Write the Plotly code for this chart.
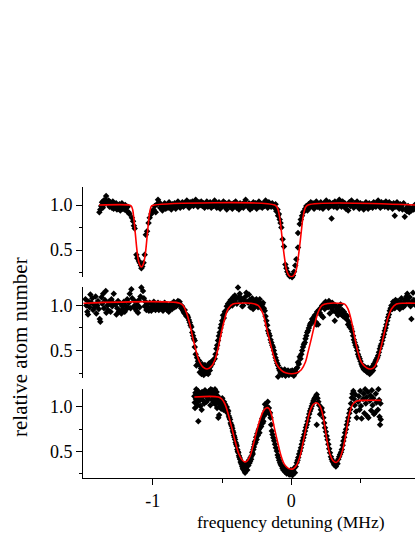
import plotly.graph_objects as go
from plotly.subplots import make_subplots

# (frequency detuning [MHz], relative atom number)
top_pts = [
    (-1.385, 0.92), (-1.378, 0.95), (-1.372, 0.99), (-1.366, 1.03), (-1.360, 0.97), (-1.354, 1.05),
    (-1.348, 1.01), (-1.342, 1.06), (-1.336, 1.10), (-1.330, 1.04), (-1.324, 1.02), (-1.318, 1.05),
    (-1.312, 0.98), (-1.306, 1.03), (-1.300, 1.01), (-1.294, 0.97), (-1.288, 1.04), (-1.282, 0.96),
    (-1.276, 1.00), (-1.270, 0.97), (-1.264, 1.02), (-1.258, 0.95), (-1.252, 0.99), (-1.246, 0.96),
    (-1.240, 1.01), (-1.234, 0.94), (-1.228, 0.98), (-1.222, 1.02), (-1.216, 0.96), (-1.210, 0.99),
    (-1.204, 0.95), (-1.198, 1.00), (-1.192, 0.97), (-1.186, 0.93), (-1.180, 0.98), (-1.174, 0.92),
    (-1.168, 0.90), (-1.150, 0.86), (-1.142, 0.82), (-1.136, 0.77), (-1.130, 0.74), (-1.118, 0.45),
    (-1.111, 0.41), (-1.100, 0.38), (-1.094, 0.36), (-1.086, 0.33), (-1.082, 0.30), (-1.075, 0.32),
    (-1.066, 0.36), (-1.058, 0.45), (-1.050, 0.67), (-1.041, 0.71), (-1.030, 0.80), (-1.022, 0.86),
    (-1.010, 0.90), (-1.002, 0.93), (-0.994, 0.95), (-0.986, 0.99), (-0.978, 0.92), (-0.970, 1.01),
    (-0.962, 1.06), (-0.954, 1.03), (-0.946, 0.97), (-0.938, 1.00), (-0.930, 0.94), (-0.922, 0.98),
    (-0.914, 1.02), (-0.906, 0.96), (-0.898, 1.00), (-0.890, 0.97), (-0.882, 1.03), (-0.874, 0.99),
    (-0.866, 0.95), (-0.858, 1.01), (-0.850, 0.98), (-0.842, 1.02), (-0.834, 0.96), (-0.826, 1.00),
    (-0.818, 1.04), (-0.810, 0.99), (-0.802, 0.97), (-0.794, 1.01), (-0.786, 1.03), (-0.778, 0.98),
    (-0.770, 1.02), (-0.762, 1.00), (-0.754, 1.05), (-0.746, 1.01), (-0.738, 0.97), (-0.730, 1.03),
    (-0.722, 1.00), (-0.714, 1.04), (-0.706, 0.99), (-0.698, 1.02), (-0.690, 1.06), (-0.682, 1.01),
    (-0.674, 0.98), (-0.666, 1.03), (-0.658, 1.00), (-0.650, 1.04), (-0.642, 0.99), (-0.634, 1.02),
    (-0.626, 0.97), (-0.618, 1.01), (-0.610, 1.04), (-0.602, 0.98), (-0.594, 1.00), (-0.586, 1.03),
    (-0.578, 0.97), (-0.570, 1.01), (-0.562, 0.99), (-0.554, 1.05), (-0.546, 1.02), (-0.538, 0.97),
    (-0.530, 1.00), (-0.522, 1.03), (-0.514, 0.96), (-0.506, 1.01), (-0.498, 0.99), (-0.490, 1.04),
    (-0.482, 0.98), (-0.474, 1.02), (-0.466, 0.95), (-0.458, 1.00), (-0.450, 1.03), (-0.442, 0.98),
    (-0.434, 1.01), (-0.426, 0.96), (-0.418, 1.02), (-0.410, 0.99), (-0.402, 1.04), (-0.394, 0.97),
    (-0.386, 1.00), (-0.378, 0.95), (-0.370, 1.02), (-0.362, 0.98), (-0.354, 1.01), (-0.346, 0.97),
    (-0.338, 1.03), (-0.330, 1.06), (-0.322, 1.00), (-0.314, 0.98), (-0.306, 1.02), (-0.298, 0.95),
    (-0.290, 1.01), (-0.282, 0.97), (-0.274, 1.03), (-0.266, 0.99), (-0.258, 1.02), (-0.250, 0.96),
    (-0.242, 1.00), (-0.234, 1.04), (-0.226, 0.98), (-0.218, 1.01), (-0.210, 0.97), (-0.202, 1.02),
    (-0.194, 0.99), (-0.186, 1.05), (-0.178, 1.00), (-0.170, 0.97), (-0.162, 1.03), (-0.154, 1.01),
    (-0.146, 0.98), (-0.138, 1.02), (-0.130, 1.00), (-0.122, 0.97), (-0.114, 1.01), (-0.108, 0.93),
    (-0.100, 0.95), (-0.096, 0.88), (-0.090, 0.90), (-0.084, 0.84), (-0.078, 0.80), (-0.072, 0.75),
    (-0.063, 0.62), (-0.053, 0.54), (-0.043, 0.34), (-0.036, 0.30), (-0.029, 0.26), (-0.020, 0.23),
    (-0.012, 0.21), (-0.004, 0.22), (0.005, 0.20), (0.012, 0.22), (0.019, 0.26), (0.028, 0.33),
    (0.036, 0.40), (0.048, 0.53), (0.048, 0.69), (0.060, 0.79), (0.068, 0.84), (0.077, 0.88),
    (0.085, 0.92), (0.092, 0.93), (0.100, 0.96), (0.108, 0.99), (0.116, 0.94), (0.124, 1.01),
    (0.132, 0.97), (0.140, 1.03), (0.148, 0.99), (0.156, 1.02), (0.164, 0.96), (0.172, 1.00),
    (0.180, 1.04), (0.188, 0.98), (0.196, 1.01), (0.204, 0.97), (0.212, 1.03), (0.220, 1.00),
    (0.228, 0.96), (0.236, 1.02), (0.244, 0.99), (0.252, 1.05), (0.260, 1.01), (0.268, 0.97),
    (0.276, 1.03), (0.284, 0.99), (0.290, 0.85), (0.298, 1.02), (0.306, 0.98), (0.314, 1.04),
    (0.322, 1.00), (0.330, 0.97), (0.338, 1.03), (0.346, 1.06), (0.354, 1.01), (0.362, 0.98),
    (0.370, 1.04), (0.378, 0.99), (0.386, 1.02), (0.394, 0.96), (0.402, 1.00), (0.410, 0.94),
    (0.418, 1.03), (0.426, 0.99), (0.434, 1.05), (0.442, 1.01), (0.450, 0.97), (0.458, 1.02),
    (0.466, 0.99), (0.474, 1.04), (0.482, 1.00), (0.490, 0.96), (0.498, 1.02), (0.506, 0.98),
    (0.514, 1.01), (0.522, 0.95), (0.530, 0.99), (0.538, 1.03), (0.546, 1.00), (0.554, 0.96),
    (0.562, 1.02), (0.570, 0.98), (0.578, 1.01), (0.586, 0.97), (0.594, 1.03), (0.602, 1.00),
    (0.610, 0.98), (0.618, 1.02), (0.626, 1.05), (0.634, 1.01), (0.642, 0.97), (0.650, 1.03),
    (0.658, 0.99), (0.666, 1.02), (0.674, 0.98), (0.682, 1.04), (0.690, 1.00), (0.698, 0.97),
    (0.706, 1.03), (0.714, 0.99), (0.722, 1.01), (0.730, 0.96), (0.738, 1.02), (0.746, 0.88),
    (0.754, 0.98), (0.762, 1.03), (0.770, 1.00), (0.778, 0.96), (0.786, 1.01), (0.794, 0.98),
    (0.802, 0.95), (0.810, 1.02), (0.818, 0.87), (0.826, 0.96), (0.834, 0.93), (0.842, 0.99),
    (0.850, 0.92), (0.858, 0.96), (0.866, 0.94), (0.874, 0.97), (0.882, 0.95), (0.890, 1.00),
]

mid_pts = [
    (-1.485, 1.07), (-1.479, 1.00), (-1.472, 0.93), (-1.467, 0.90), (-1.461, 1.04), (-1.455, 0.98),
    (-1.450, 1.12), (-1.444, 1.03), (-1.436, 1.08), (-1.430, 0.95), (-1.424, 1.01), (-1.418, 0.98),
    (-1.412, 1.10), (-1.407, 0.91), (-1.400, 1.00), (-1.395, 1.05), (-1.389, 0.96), (-1.382, 0.85),
    (-1.378, 0.82), (-1.370, 1.09), (-1.364, 1.02), (-1.358, 1.13), (-1.352, 0.97), (-1.345, 1.06),
    (-1.339, 1.16), (-1.335, 0.92), (-1.328, 1.00), (-1.322, 0.95), (-1.316, 1.04), (-1.310, 1.02),
    (-1.304, 0.93), (-1.298, 1.07), (-1.292, 0.99), (-1.286, 1.03), (-1.281, 1.13), (-1.274, 1.25),
    (-1.268, 1.01), (-1.262, 0.90), (-1.256, 0.97), (-1.250, 1.05), (-1.244, 0.93), (-1.238, 0.94),
    (-1.232, 1.02), (-1.226, 0.91), (-1.220, 0.99), (-1.214, 0.96), (-1.208, 1.04), (-1.202, 0.93),
    (-1.196, 1.00), (-1.190, 0.96), (-1.184, 1.07), (-1.178, 0.98), (-1.172, 1.03), (-1.166, 1.13),
    (-1.160, 0.97), (-1.154, 1.18), (-1.148, 1.08), (-1.142, 1.29), (-1.136, 0.99), (-1.130, 1.05),
    (-1.124, 0.96), (-1.118, 0.94), (-1.112, 1.01), (-1.106, 0.92), (-1.100, 1.06), (-1.094, 0.98),
    (-1.088, 1.10), (-1.082, 1.20), (-1.075, 1.24), (-1.070, 1.16), (-1.064, 1.08), (-1.058, 0.99),
    (-1.052, 1.04), (-1.046, 0.95), (-1.040, 1.02), (-1.034, 0.98), (-1.028, 0.94), (-1.022, 1.03),
    (-1.016, 0.97), (-1.010, 0.94), (-1.004, 1.01), (-0.998, 0.96), (-0.992, 1.04), (-0.986, 0.99),
    (-0.980, 0.95), (-0.974, 1.00), (-0.968, 0.97), (-0.962, 1.03), (-0.956, 0.95), (-0.950, 0.99),
    (-0.944, 1.02), (-0.938, 0.96), (-0.932, 1.00), (-0.926, 0.94), (-0.920, 0.98), (-0.914, 1.03),
    (-0.908, 0.97), (-0.902, 1.01), (-0.896, 0.95), (-0.890, 0.99), (-0.884, 0.93), (-0.878, 1.00),
    (-0.872, 0.97), (-0.866, 1.02), (-0.860, 0.96), (-0.854, 0.99), (-0.848, 1.04), (-0.842, 0.98),
    (-0.836, 1.02), (-0.830, 0.99), (-0.824, 1.03), (-0.818, 1.05), (-0.812, 1.01), (-0.806, 1.04),
    (-0.800, 1.00), (-0.794, 0.97), (-0.788, 0.99), (-0.781, 0.94), (-0.775, 0.92), (-0.769, 0.95),
    (-0.763, 0.90), (-0.757, 0.88), (-0.751, 0.89), (-0.745, 0.87), (-0.739, 0.84), (-0.733, 0.81),
    (-0.727, 0.78), (-0.721, 0.76), (-0.715, 0.70), (-0.709, 0.665), (-0.703, 0.63), (-0.697, 0.61),
    (-0.697, 0.54), (-0.690, 0.46), (-0.685, 0.335), (-0.680, 0.42), (-0.674, 0.38), (-0.670, 0.36),
    (-0.666, 0.39), (-0.661, 0.26), (-0.656, 0.33), (-0.652, 0.30), (-0.648, 0.24), (-0.644, 0.35),
    (-0.640, 0.28), (-0.636, 0.32), (-0.632, 0.23), (-0.628, 0.30), (-0.624, 0.34), (-0.620, 0.27),
    (-0.616, 0.31), (-0.612, 0.25), (-0.608, 0.29), (-0.604, 0.33), (-0.600, 0.24), (-0.596, 0.30),
    (-0.592, 0.36), (-0.588, 0.28), (-0.584, 0.32), (-0.580, 0.37), (-0.577, 0.15), (-0.572, 0.35),
    (-0.566, 0.38), (-0.560, 0.40), (-0.553, 0.41), (-0.547, 0.46), (-0.541, 0.52), (-0.535, 0.56),
    (-0.529, 0.61), (-0.523, 0.66), (-0.517, 0.70), (-0.511, 0.75), (-0.505, 0.79), (-0.499, 0.83),
    (-0.493, 0.89), (-0.487, 0.86), (-0.480, 0.93), (-0.473, 0.94), (-0.466, 0.99), (-0.457, 1.02),
    (-0.450, 0.98), (-0.444, 1.04), (-0.438, 1.06), (-0.433, 1.05), (-0.426, 1.00), (-0.420, 1.09),
    (-0.414, 1.03), (-0.408, 1.11), (-0.400, 1.07), (-0.393, 1.02), (-0.385, 1.20), (-0.378, 1.09),
    (-0.372, 1.13), (-0.366, 1.05), (-0.360, 1.08), (-0.354, 0.99), (-0.348, 1.00), (-0.342, 1.06),
    (-0.334, 1.27), (-0.330, 1.10), (-0.325, 1.14), (-0.318, 1.04), (-0.312, 1.03), (-0.306, 1.12),
    (-0.300, 1.06), (-0.295, 0.98), (-0.289, 1.03), (-0.283, 1.08), (-0.276, 0.96), (-0.270, 1.01),
    (-0.264, 1.05), (-0.258, 0.99), (-0.252, 1.07), (-0.246, 1.02), (-0.240, 0.98), (-0.234, 1.04),
    (-0.228, 1.07), (-0.222, 1.00), (-0.216, 0.97), (-0.210, 1.01), (-0.204, 1.03), (-0.198, 0.97),
    (-0.192, 0.94), (-0.186, 0.88), (-0.180, 0.83), (-0.174, 0.78), (-0.168, 0.72), (-0.162, 0.69),
    (-0.156, 0.665), (-0.150, 0.62), (-0.144, 0.59), (-0.138, 0.56), (-0.132, 0.537), (-0.126, 0.50),
    (-0.120, 0.46), (-0.114, 0.42), (-0.108, 0.39), (-0.102, 0.36), (-0.096, 0.335), (-0.096, 0.21),
    (-0.090, 0.30), (-0.084, 0.28), (-0.078, 0.25), (-0.072, 0.29), (-0.066, 0.23), (-0.060, 0.27),
    (-0.054, 0.25), (-0.048, 0.29), (-0.042, 0.22), (-0.036, 0.26), (-0.030, 0.24), (-0.024, 0.28),
    (-0.018, 0.23), (-0.012, 0.25), (-0.006, 0.27), (0.000, 0.24), (0.006, 0.28), (0.012, 0.25),
    (0.018, 0.22), (0.024, 0.27), (0.030, 0.29), (0.036, 0.26), (0.042, 0.31), (0.048, 0.37),
    (0.054, 0.35), (0.060, 0.43), (0.066, 0.41), (0.072, 0.46), (0.078, 0.50), (0.084, 0.54),
    (0.090, 0.57), (0.097, 0.59), (0.102, 0.63), (0.108, 0.665), (0.114, 0.70), (0.120, 0.72),
    (0.126, 0.75), (0.133, 0.78), (0.138, 0.80), (0.144, 0.81), (0.150, 0.85), (0.157, 0.83),
    (0.163, 0.87), (0.169, 0.89), (0.175, 0.82), (0.180, 0.79), (0.186, 0.93), (0.193, 0.79),
    (0.199, 0.95), (0.205, 0.92), (0.210, 0.97), (0.216, 0.89), (0.222, 1.00), (0.229, 0.87),
    (0.235, 1.02), (0.241, 0.96), (0.247, 1.04), (0.253, 0.99), (0.259, 1.02), (0.265, 0.98),
    (0.271, 1.05), (0.277, 0.91), (0.283, 1.01), (0.289, 0.97), (0.295, 1.03), (0.301, 0.94),
    (0.307, 0.99), (0.313, 0.83), (0.319, 1.00), (0.325, 0.92), (0.331, 0.96), (0.337, 0.89),
    (0.343, 0.98), (0.349, 0.93), (0.355, 1.01), (0.361, 0.90), (0.367, 0.95), (0.373, 0.88),
    (0.379, 0.93), (0.385, 0.87), (0.391, 0.90), (0.397, 0.85), (0.403, 0.88), (0.409, 0.79),
    (0.415, 0.82), (0.421, 0.76), (0.427, 0.77), (0.433, 0.74), (0.439, 0.71), (0.445, 0.665),
    (0.451, 0.62), (0.457, 0.59), (0.463, 0.56), (0.469, 0.537), (0.475, 0.50), (0.481, 0.46),
    (0.487, 0.43), (0.493, 0.41), (0.499, 0.38), (0.505, 0.35), (0.511, 0.33), (0.517, 0.31),
    (0.523, 0.29), (0.529, 0.32), (0.535, 0.28), (0.541, 0.30), (0.547, 0.26), (0.553, 0.31),
    (0.559, 0.27), (0.565, 0.24), (0.571, 0.29), (0.577, 0.26), (0.583, 0.32), (0.589, 0.28),
    (0.595, 0.35), (0.601, 0.33), (0.607, 0.38), (0.613, 0.40), (0.620, 0.42), (0.626, 0.445),
    (0.632, 0.48), (0.638, 0.52), (0.644, 0.55), (0.650, 0.573), (0.656, 0.61), (0.662, 0.647),
    (0.668, 0.68), (0.674, 0.72), (0.680, 0.75), (0.686, 0.79), (0.692, 0.83), (0.698, 0.868),
    (0.704, 0.90), (0.710, 0.94), (0.716, 0.97), (0.722, 1.00), (0.728, 0.96), (0.734, 1.04),
    (0.740, 1.01), (0.746, 0.97), (0.752, 1.06), (0.758, 1.02), (0.764, 0.99), (0.770, 1.05),
    (0.776, 1.00), (0.782, 0.96), (0.788, 1.03), (0.794, 1.08), (0.800, 1.01), (0.806, 0.98),
    (0.812, 1.04), (0.818, 1.00), (0.824, 1.07), (0.830, 1.10), (0.836, 1.13), (0.842, 1.05),
    (0.848, 1.02), (0.854, 1.09), (0.860, 0.99), (0.866, 0.85), (0.872, 1.04), (0.878, 1.14),
    (0.884, 1.06), (0.890, 1.01),
]

bot_pts = [
    (-0.700, 1.12), (-0.697, 1.05), (-0.695, 0.99), (-0.692, 1.16), (-0.689, 1.09), (-0.686, 1.20),
    (-0.682, 1.05), (-0.679, 1.13), (-0.676, 1.02), (-0.673, 1.18), (-0.671, 0.84), (-0.668, 1.10),
    (-0.665, 1.24), (-0.662, 1.07), (-0.659, 1.15), (-0.656, 1.01), (-0.653, 1.21), (-0.650, 1.11),
    (-0.647, 0.97), (-0.644, 1.17), (-0.641, 1.28), (-0.638, 1.08), (-0.635, 1.22), (-0.632, 1.14),
    (-0.629, 1.04), (-0.626, 1.25), (-0.623, 1.19), (-0.620, 1.30), (-0.617, 1.12), (-0.614, 1.23),
    (-0.611, 1.06), (-0.608, 1.27), (-0.605, 1.16), (-0.602, 1.21), (-0.599, 1.09), (-0.596, 1.29),
    (-0.593, 1.18), (-0.590, 1.13), (-0.587, 1.24), (-0.584, 1.02), (-0.581, 1.20), (-0.578, 1.15),
    (-0.575, 1.26), (-0.572, 1.08), (-0.569, 1.19), (-0.566, 1.12), (-0.563, 1.22), (-0.560, 1.05),
    (-0.557, 1.16), (-0.554, 1.10), (-0.551, 1.20), (-0.548, 1.03), (-0.545, 1.13), (-0.542, 1.07),
    (-0.539, 1.17), (-0.536, 0.99), (-0.533, 1.09), (-0.530, 1.12), (-0.527, 0.88), (-0.524, 1.04),
    (-0.521, 0.91), (-0.518, 1.06), (-0.514, 1.00), (-0.510, 1.08), (-0.506, 0.98), (-0.502, 1.03),
    (-0.498, 1.10), (-0.494, 1.04), (-0.490, 0.97), (-0.486, 1.06), (-0.482, 1.01), (-0.478, 1.03),
    (-0.474, 0.99), (-0.470, 0.95), (-0.466, 1.00), (-0.462, 0.97), (-0.458, 0.93), (-0.455, 0.955),
    (-0.451, 0.90), (-0.447, 0.88), (-0.442, 0.86), (-0.438, 0.82), (-0.434, 0.80), (-0.430, 0.785),
    (-0.426, 0.76), (-0.422, 0.73), (-0.418, 0.71), (-0.414, 0.68), (-0.410, 0.66), (-0.406, 0.635),
    (-0.402, 0.60), (-0.398, 0.58), (-0.394, 0.56), (-0.390, 0.52), (-0.386, 0.50), (-0.382, 0.485),
    (-0.378, 0.45), (-0.374, 0.43), (-0.370, 0.41), (-0.366, 0.38), (-0.362, 0.37), (-0.358, 0.353),
    (-0.354, 0.33), (-0.350, 0.31), (-0.346, 0.297), (-0.342, 0.35), (-0.338, 0.28), (-0.334, 0.26),
    (-0.330, 0.33), (-0.326, 0.30), (-0.322, 0.36), (-0.318, 0.29), (-0.314, 0.38), (-0.310, 0.34),
    (-0.306, 0.40), (-0.302, 0.37), (-0.298, 0.39), (-0.294, 0.43), (-0.290, 0.41), (-0.286, 0.45),
    (-0.282, 0.49), (-0.278, 0.47), (-0.274, 0.52), (-0.270, 0.55), (-0.266, 0.58), (-0.262, 0.61),
    (-0.258, 0.60), (-0.254, 0.66), (-0.250, 0.635), (-0.246, 0.70), (-0.242, 0.68), (-0.238, 0.73),
    (-0.234, 0.75), (-0.230, 0.71), (-0.226, 0.767), (-0.222, 0.80), (-0.218, 0.78), (-0.214, 0.84),
    (-0.210, 0.87), (-0.206, 0.82), (-0.202, 0.84), (-0.198, 0.90), (-0.194, 0.93), (-0.190, 0.917),
    (-0.190, 1.03), (-0.186, 0.96), (-0.182, 0.99), (-0.178, 1.01), (-0.174, 0.97), (-0.170, 1.06),
    (-0.166, 0.95), (-0.162, 0.99), (-0.158, 0.92), (-0.154, 0.935), (-0.150, 0.88), (-0.146, 0.80),
    (-0.141, 0.73), (-0.136, 0.69), (-0.130, 0.654), (-0.124, 0.62), (-0.118, 0.58), (-0.112, 0.54),
    (-0.105, 0.504), (-0.099, 0.46), (-0.094, 0.43), (-0.088, 0.40), (-0.082, 0.372), (-0.076, 0.35),
    (-0.069, 0.335), (-0.064, 0.31), (-0.058, 0.29), (-0.052, 0.32), (-0.046, 0.27), (-0.040, 0.30),
    (-0.034, 0.25), (-0.028, 0.28), (-0.022, 0.26), (-0.016, 0.24), (-0.009, 0.24), (-0.004, 0.29),
    (0.002, 0.27), (0.008, 0.23), (0.014, 0.28), (0.020, 0.31), (0.026, 0.26), (0.032, 0.33),
    (0.039, 0.372), (0.045, 0.40), (0.050, 0.43), (0.056, 0.47), (0.063, 0.504), (0.069, 0.54),
    (0.075, 0.58), (0.081, 0.62), (0.087, 0.654), (0.093, 0.69), (0.099, 0.73), (0.105, 0.77),
    (0.111, 0.80), (0.117, 0.84), (0.123, 0.88), (0.129, 0.92), (0.135, 0.955), (0.141, 0.98),
    (0.147, 1.01), (0.153, 1.04), (0.159, 1.068), (0.165, 1.09), (0.171, 1.105), (0.177, 1.12),
    (0.183, 1.14), (0.183, 0.80), (0.189, 1.10), (0.195, 1.06), (0.201, 1.02), (0.207, 0.917),
    (0.213, 0.97), (0.219, 0.99), (0.225, 0.94), (0.231, 0.88), (0.237, 0.82), (0.243, 0.767),
    (0.249, 0.72), (0.255, 0.673), (0.261, 0.63), (0.267, 0.58), (0.273, 0.53), (0.279, 0.485),
    (0.285, 0.44), (0.291, 0.41), (0.297, 0.39), (0.303, 0.372), (0.309, 0.35), (0.315, 0.346),
    (0.321, 0.33), (0.327, 0.38), (0.333, 0.36), (0.339, 0.41), (0.345, 0.44), (0.351, 0.466),
    (0.358, 0.49), (0.364, 0.52), (0.370, 0.57), (0.375, 0.617), (0.381, 0.66), (0.387, 0.71),
    (0.394, 0.75), (0.400, 0.80), (0.406, 0.84), (0.411, 0.88), (0.418, 0.93), (0.424, 0.973),
    (0.430, 1.04), (0.436, 1.105), (0.441, 1.15), (0.447, 1.18), (0.452, 1.09), (0.457, 1.02),
    (0.462, 1.14), (0.467, 0.95), (0.472, 0.88), (0.477, 1.21), (0.482, 1.06), (0.487, 1.12),
    (0.492, 0.97), (0.497, 1.18), (0.502, 1.01), (0.507, 0.87), (0.512, 1.23), (0.517, 1.09),
    (0.522, 1.15), (0.527, 0.93), (0.532, 1.20), (0.537, 1.04), (0.542, 1.11), (0.547, 0.90),
    (0.552, 1.17), (0.556, 0.88), (0.561, 1.24), (0.566, 1.07), (0.571, 1.13), (0.576, 0.96),
    (0.581, 1.19), (0.586, 1.02), (0.591, 1.10), (0.596, 0.92), (0.601, 1.22), (0.604, 0.935),
    (0.609, 1.15), (0.614, 1.05), (0.619, 1.26), (0.624, 0.97), (0.628, 1.20), (0.633, 1.08),
    (0.636, 0.89), (0.640, 1.27), (0.640, 0.80), (0.643, 1.04), (0.645, 0.86),
]

# fitted curves (red), sampled off the figure
top_fit = [
    (-1.387, 1.0), (-1.17, 1.0), (-1.155, 0.99), (-1.145, 0.95), (-1.137, 0.86), (-1.125, 0.675),
    (-1.113, 0.49), (-1.101, 0.37), (-1.09, 0.325), (-1.082, 0.315), (-1.074, 0.325), (-1.063, 0.37),
    (-1.051, 0.49), (-1.039, 0.675), (-1.027, 0.86), (-1.018, 0.95), (-1.008, 0.99), (-0.99, 1.0),
    (-0.12, 1.0), (-0.101, 0.97), (-0.084, 0.86), (-0.072, 0.71), (-0.06, 0.544), (-0.048, 0.40),
    (-0.036, 0.286), (-0.019, 0.222), (0.0, 0.204), (0.019, 0.222), (0.036, 0.286), (0.048, 0.40),
    (0.06, 0.544), (0.072, 0.71), (0.084, 0.86), (0.101, 0.97), (0.12, 1.0), (0.892, 1.0),
]

mid_fit = [
    (-1.5, 1.025), (-0.805, 1.025), (-0.781, 1.0), (-0.757, 0.923), (-0.733, 0.794), (-0.709, 0.63),
    (-0.685, 0.48), (-0.661, 0.37), (-0.637, 0.316), (-0.608, 0.295), (-0.577, 0.324), (-0.553, 0.39),
    (-0.529, 0.52), (-0.505, 0.70), (-0.481, 0.85), (-0.457, 0.96), (-0.421, 1.015), (-0.372, 1.025),
    (-0.30, 1.025), (-0.24, 1.0), (-0.204, 0.905), (-0.18, 0.757), (-0.156, 0.61), (-0.132, 0.463),
    (-0.108, 0.353), (-0.072, 0.28), (-0.036, 0.25), (0.0, 0.243), (0.036, 0.25), (0.072, 0.287),
    (0.101, 0.37), (0.12, 0.48), (0.144, 0.63), (0.169, 0.794), (0.193, 0.923), (0.222, 1.0),
    (0.265, 1.022), (0.337, 1.025), (0.385, 1.015), (0.409, 0.96), (0.433, 0.83), (0.457, 0.647),
    (0.481, 0.48), (0.505, 0.37), (0.541, 0.31), (0.573, 0.295), (0.602, 0.324), (0.626, 0.41),
    (0.65, 0.556), (0.674, 0.72), (0.698, 0.868), (0.722, 0.96), (0.758, 1.015), (0.818, 1.025),
    (0.892, 1.025),
]

bot_fit = [
    (-0.70, 1.113), (-0.527, 1.113), (-0.502, 1.09), (-0.478, 1.03), (-0.455, 0.917), (-0.43, 0.767),
    (-0.406, 0.617), (-0.382, 0.485), (-0.358, 0.41), (-0.339, 0.383), (-0.32, 0.39), (-0.298, 0.447),
    (-0.274, 0.578), (-0.25, 0.73), (-0.226, 0.86), (-0.202, 0.955), (-0.178, 0.992), (-0.16, 0.98),
    (-0.141, 0.90), (-0.123, 0.767), (-0.098, 0.598), (-0.074, 0.447), (-0.05, 0.353), (-0.022, 0.308),
    (-0.002, 0.30), (0.014, 0.305), (0.039, 0.346), (0.063, 0.447), (0.087, 0.617), (0.111, 0.80),
    (0.135, 0.955), (0.159, 1.03), (0.183, 1.048), (0.207, 1.01), (0.226, 0.917), (0.243, 0.767),
    (0.26, 0.598), (0.279, 0.466), (0.299, 0.398), (0.323, 0.375), (0.346, 0.41), (0.371, 0.52),
    (0.395, 0.71), (0.418, 0.917), (0.443, 1.03), (0.472, 1.068), (0.544, 1.075), (0.645, 1.075),
]

x_range = [-1.503, 0.892]
y_range = [0.2, 1.2]
x_ticks = [-1, 0, 1]
x_labels = ["-1", "0", "1"]
y_ticks = [0.5, 1.0]

FONT = "Liberation Serif, Times New Roman, serif"

fig = make_subplots(rows=3, cols=1, shared_xaxes=True)

for row, pts, fit in [(1, top_pts, top_fit), (2, mid_pts, mid_fit), (3, bot_pts, bot_fit)]:
    xs, ys = zip(*pts)
    fig.add_trace(go.Scatter(x=xs, y=ys, mode="markers",
                             marker=dict(symbol="diamond", size=5, color="black"),
                             cliponaxis=False, showlegend=False), row=row, col=1)
    fx, fy = zip(*fit)
    fig.add_trace(go.Scatter(x=fx, y=fy, mode="lines",
                             line=dict(color="#ff0000", width=1.6, shape="spline"),
                             cliponaxis=False, showlegend=False), row=row, col=1)

domains = {1: [0.69, 1.0], 2: [0.345, 0.655], 3: [0.0, 0.305]}
for row, dom in domains.items():
    fig.update_yaxes(row=row, col=1, domain=dom, range=y_range, tickvals=y_ticks, tickformat=".1f",
                     ticks="outside", ticklen=6, tickcolor="black", showline=True, linecolor="black",
                     linewidth=1, showgrid=False, zeroline=False,
                     minor=dict(tickvals=[0.25, 0.75], ticks="outside", ticklen=3, tickcolor="black"),
                     tickfont=dict(family=FONT, size=18, color="black"))
    fig.update_xaxes(row=row, col=1, range=x_range, domain=[0, 1], showgrid=False, zeroline=False)

fig.update_xaxes(row=1, col=1, visible=False)
fig.update_xaxes(row=2, col=1, visible=False)
fig.update_xaxes(row=3, col=1, showline=True, linecolor="black", linewidth=1,
                 tickvals=x_ticks, ticktext=x_labels, ticks="outside", ticklen=6, tickcolor="black",
                 minor=dict(tickvals=[-0.5, 0.5], ticks="outside", ticklen=4, tickcolor="black"),
                 tickfont=dict(family=FONT, size=18, color="black"))

fig.add_annotation(text="frequency detuning (MHz)", x=0, xref="x3", y=-0.151, yref="paper",
                   xanchor="center", yanchor="middle", showarrow=False,
                   font=dict(family=FONT, size=17.5, color="black"))
fig.add_annotation(text="relative atom number", textangle=-90, x=-0.19, xref="paper",
                   y=0.45, yref="paper", xanchor="center", yanchor="middle", showarrow=False,
                   font=dict(family=FONT, size=21, color="black"))

fig.update_layout(width=415, height=537, margin=dict(l=83, r=0, t=187, b=59),
                  plot_bgcolor="white", paper_bgcolor="white",
                  font=dict(family=FONT, color="black"))

# the page's default body margin would shift the figure by 8px
fig.write_html("out.html", config={"displayModeBar": False},
               post_script="document.body.style.margin = '0';")
